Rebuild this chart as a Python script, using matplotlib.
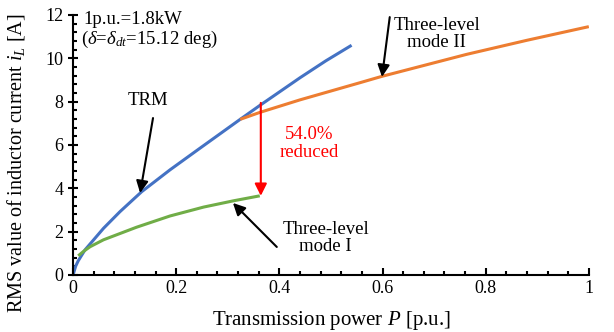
import numpy as np
import matplotlib
matplotlib.use('Agg')
import matplotlib.pyplot as plt
from matplotlib.ticker import MultipleLocator, FuncFormatter

plt.rcParams['font.family'] = ['Liberation Serif', 'DejaVu Serif']
plt.rcParams['mathtext.fontset'] = 'custom'
plt.rcParams['mathtext.rm'] = 'Liberation Serif'
plt.rcParams['mathtext.it'] = 'Liberation Serif:italic'

# TRM curve
p_trm = [0, 0.005, 0.01, 0.023, 0.059, 0.091, 0.133, 0.188, 0.245, 0.324, 0.362, 0.44, 0.49, 0.54]
i_trm = [0, 0.4, 0.65, 1.15, 2.15, 2.92, 3.84, 4.85, 5.83, 7.18, 7.82, 9.1, 9.88, 10.6]

# three-level mode I
p_m1 = [0.01, 0.02, 0.033, 0.059, 0.123, 0.188, 0.253, 0.311, 0.362]
i_m1 = [0.88, 1.08, 1.3, 1.62, 2.2, 2.72, 3.13, 3.42, 3.65]

# three-level mode II
p_m2 = [0.324, 0.362, 0.44, 0.556, 0.598, 0.763, 0.88, 1.0]
i_m2 = [7.18, 7.5, 8.08, 8.87, 9.16, 10.18, 10.83, 11.46]

fig = plt.figure(figsize=(6.14, 3.32), dpi=100)
ax = fig.add_axes([0.119, 0.172, 0.84, 0.783])

ax.plot(p_trm, i_trm, color='#4472C4', lw=2.2, solid_capstyle='butt')
ax.plot(p_m2, i_m2, color='#ED7D31', lw=2.2, solid_capstyle='butt')
ax.plot(p_m1, i_m1, color='#70AD47', lw=2.2, solid_capstyle='butt')

ax.set_xlim(0, 1)
ax.set_ylim(0, 12)
ax.xaxis.set_major_locator(MultipleLocator(0.2))
ax.xaxis.set_minor_locator(MultipleLocator(0.04))
ax.yaxis.set_major_locator(MultipleLocator(2))
ax.yaxis.set_minor_locator(MultipleLocator(0.4))
ax.xaxis.set_major_formatter(FuncFormatter(lambda v, pos: '%g' % round(v, 2)))
ax.tick_params(which='both', direction='in', labelsize=13, width=1.5)
ax.tick_params(which='major', length=5)
ax.tick_params(which='minor', length=3)
ax.tick_params(axis='y', which='major', direction='inout', length=7)
for s in ['top', 'right']:
    ax.spines[s].set_visible(False)
for s in ['left', 'bottom']:
    ax.spines[s].set_linewidth(1.5)

ax.set_xlabel('Transmission power $P$ [p.u.]', fontsize=15, labelpad=9)
ax.set_ylabel('RMS value of inductor current $i_L$ [A]', fontsize=14.5)
ax.yaxis.set_label_coords(-0.09, 0.43)

ax.text(0.02, 11.8, '1p.u.=1.8kW', fontsize=13.5, va='center', ha='left')
ax.text(0.015, 10.85, r'($\delta$=$\delta_{dt}$=15.12 deg)', fontsize=13.5, va='center', ha='left')

arrow = dict(arrowstyle='-|>', color='black', lw=1.5, mutation_scale=18,
             shrinkA=0, shrinkB=0)
ax.text(0.145, 8.03, 'TRM', fontsize=13.5, ha='center', va='center')
ax.annotate('', xy=(0.13, 3.78), xytext=(0.155, 7.24), arrowprops=arrow)

ax.text(0.705, 11.12, 'Three-level\nmode II', fontsize=13.5, ha='center',
        va='center', linespacing=1.0)
ax.annotate('', xy=(0.599, 9.14), xytext=(0.614, 11.9), arrowprops=arrow)

ax.text(0.49, 1.71, 'Three-level\nmode I', fontsize=13.5, ha='center',
        va='center', linespacing=1.0)
ax.annotate('', xy=(0.31, 3.32), xytext=(0.395, 1.29), arrowprops=arrow)

ax.annotate('', xy=(0.364, 3.65), xytext=(0.364, 7.94),
            arrowprops=dict(arrowstyle='-|>', color='red', lw=1.5,
                            mutation_scale=18, shrinkA=0, shrinkB=0))
ax.text(0.457, 6.05, '54.0%\nreduced', color='red', fontsize=13.5,
        ha='center', va='center', linespacing=1.1)

fig.savefig('out.png', dpi=100)
